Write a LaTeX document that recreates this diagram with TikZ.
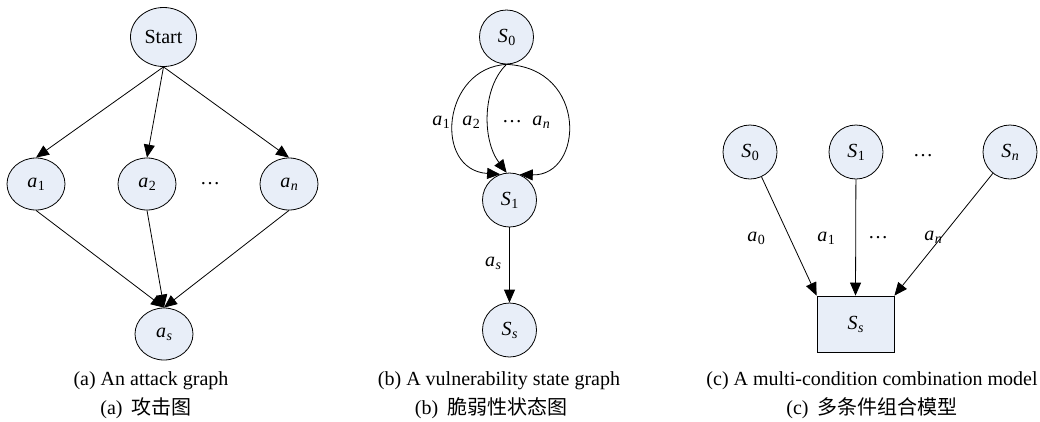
\documentclass[tikz,border=0pt]{standalone}
\usepackage{fontspec}
\setmainfont{Liberation Serif}
\newfontfamily\cjk{Noto Sans CJK SC}
\usetikzlibrary{arrows.meta,shapes.geometric}
\definecolor{nodefill}{RGB}{232,238,248}
\newcommand\vv[2]{\textit{#1}\kern0.5pt{\fontsize{14}{14}\selectfont\raisebox{-3pt}{#2}}}
\tikzset{
  base/.style={draw=black,fill=nodefill,line width=0.8pt,inner sep=0pt,font=\fontsize{20}{24}\selectfont},
  ell/.style={base,ellipse,minimum width=58pt,minimum height=52pt},
  circ/.style={base,circle,minimum size=54pt},
  rectnode/.style={base,rectangle,minimum width=77pt,minimum height=56pt},
  lbl/.style={inner sep=0pt,font=\fontsize{20}{24}\selectfont},
  captxt/.style={inner sep=0pt,font=\fontsize{20}{24}\selectfont},
  arr/.style={line width=0.8pt,-{Triangle[length=13pt,width=11pt]}},
}
\begin{document}
\begin{tikzpicture}[x=1pt,y=-1pt]
\useasboundingbox (0,0) rectangle (1040,421);
% ---------- (a) ----------
\node[ell,minimum width=66pt,minimum height=59pt] (start) at (163.5,37) {Start};
\node[ell] (a1) at (36,184) {\vv{a}{1}};
\node[ell] (a2) at (147,184) {\vv{a}{2}};
\node[lbl] (adots) at (210,184) {\dots};
\node[ell] (an) at (289,184) {\vv{a}{\textit{n}}};
\node[ell] (as) at (164,334) {\vv{a}{\textit{s}}};
\draw[arr] (start.south) -- (a1.north);
\draw[arr] (start.south) -- (a2.north);
\draw[arr] (start.south) -- (an.north);
\draw[arr] (a1.south) -- (as.north);
\draw[arr] (a2.south) -- (as.north);
\draw[arr] (an.south) -- (as.north);
\node[captxt] (capa1) at (151,381) {(a) An attack graph};
\node[captxt] (capa2) at (146,408) {(a)\hspace{0.45em}{\cjk 攻击图}};
% ---------- (b) ----------
\node[circ] (s0b) at (506.5,37) {\vv{S}{0}};
\node[circ] (s1b) at (509.5,200) {\vv{S}{1}};
\node[circ] (ssb) at (509.5,330) {\vv{S}{\textit{s}}};
\draw[arr] (s0b.south) .. controls (442,68) and (433,170) .. (s1b.110);
\draw[arr] (s0b.south) .. controls (482,88) and (482,140) .. (s1b.96);
\draw[arr] (s0b.south) .. controls (588,68) and (584,176) .. (s1b.68);
\node[lbl] (lb1) at (441,122) {\vv{a}{1}};
\node[lbl] (lb2) at (471,122) {\vv{a}{2}};
\node[lbl] (lbd) at (512,122) {\dots};
\node[lbl] (lbn) at (541,122) {\vv{a}{\textit{n}}};
\draw[arr] (s1b.south) -- (ssb.north);
\node[lbl] (lbs) at (493,263) {\vv{a}{\textit{s}}};
\node[captxt] (capb1) at (499,381) {(b) A vulnerability state graph};
\node[captxt] (capb2) at (491,408) {(b)\hspace{0.45em}{\cjk 脆弱性状态图}};
% ---------- (c) ----------
\node[circ] (s0c) at (750,152) {\vv{S}{0}};
\node[circ] (s1c) at (856,152) {\vv{S}{1}};
\node[lbl] (cdots) at (923,156) {\dots};
\node[circ] (snc) at (1010,152) {\vv{S}{\textit{n}}};
\node[rectnode] (ssc) at (855.5,324) {\vv{S}{\textit{s}}};
\draw[arr] (s0c) -- (ssc.north west);
\draw[arr] (s1c) -- (ssc.north);
\draw[arr] (snc) -- (ssc.north east);
\node[lbl] (lc0) at (756,238) {\vv{a}{0}};
\node[lbl] (lc1) at (826,238) {\vv{a}{1}};
\node[lbl] (lcd) at (878,238) {\dots};
\node[lbl] (lcn) at (933,237) {\vv{a}{\textit{n}}};
\node[captxt] (capc1) at (872,381) {(c) A multi-condition combination model};
\node[captxt] (capc2) at (872,408) {(c)\hspace{0.45em}{\cjk 多条件组合模型}};
\end{tikzpicture}
\end{document}
